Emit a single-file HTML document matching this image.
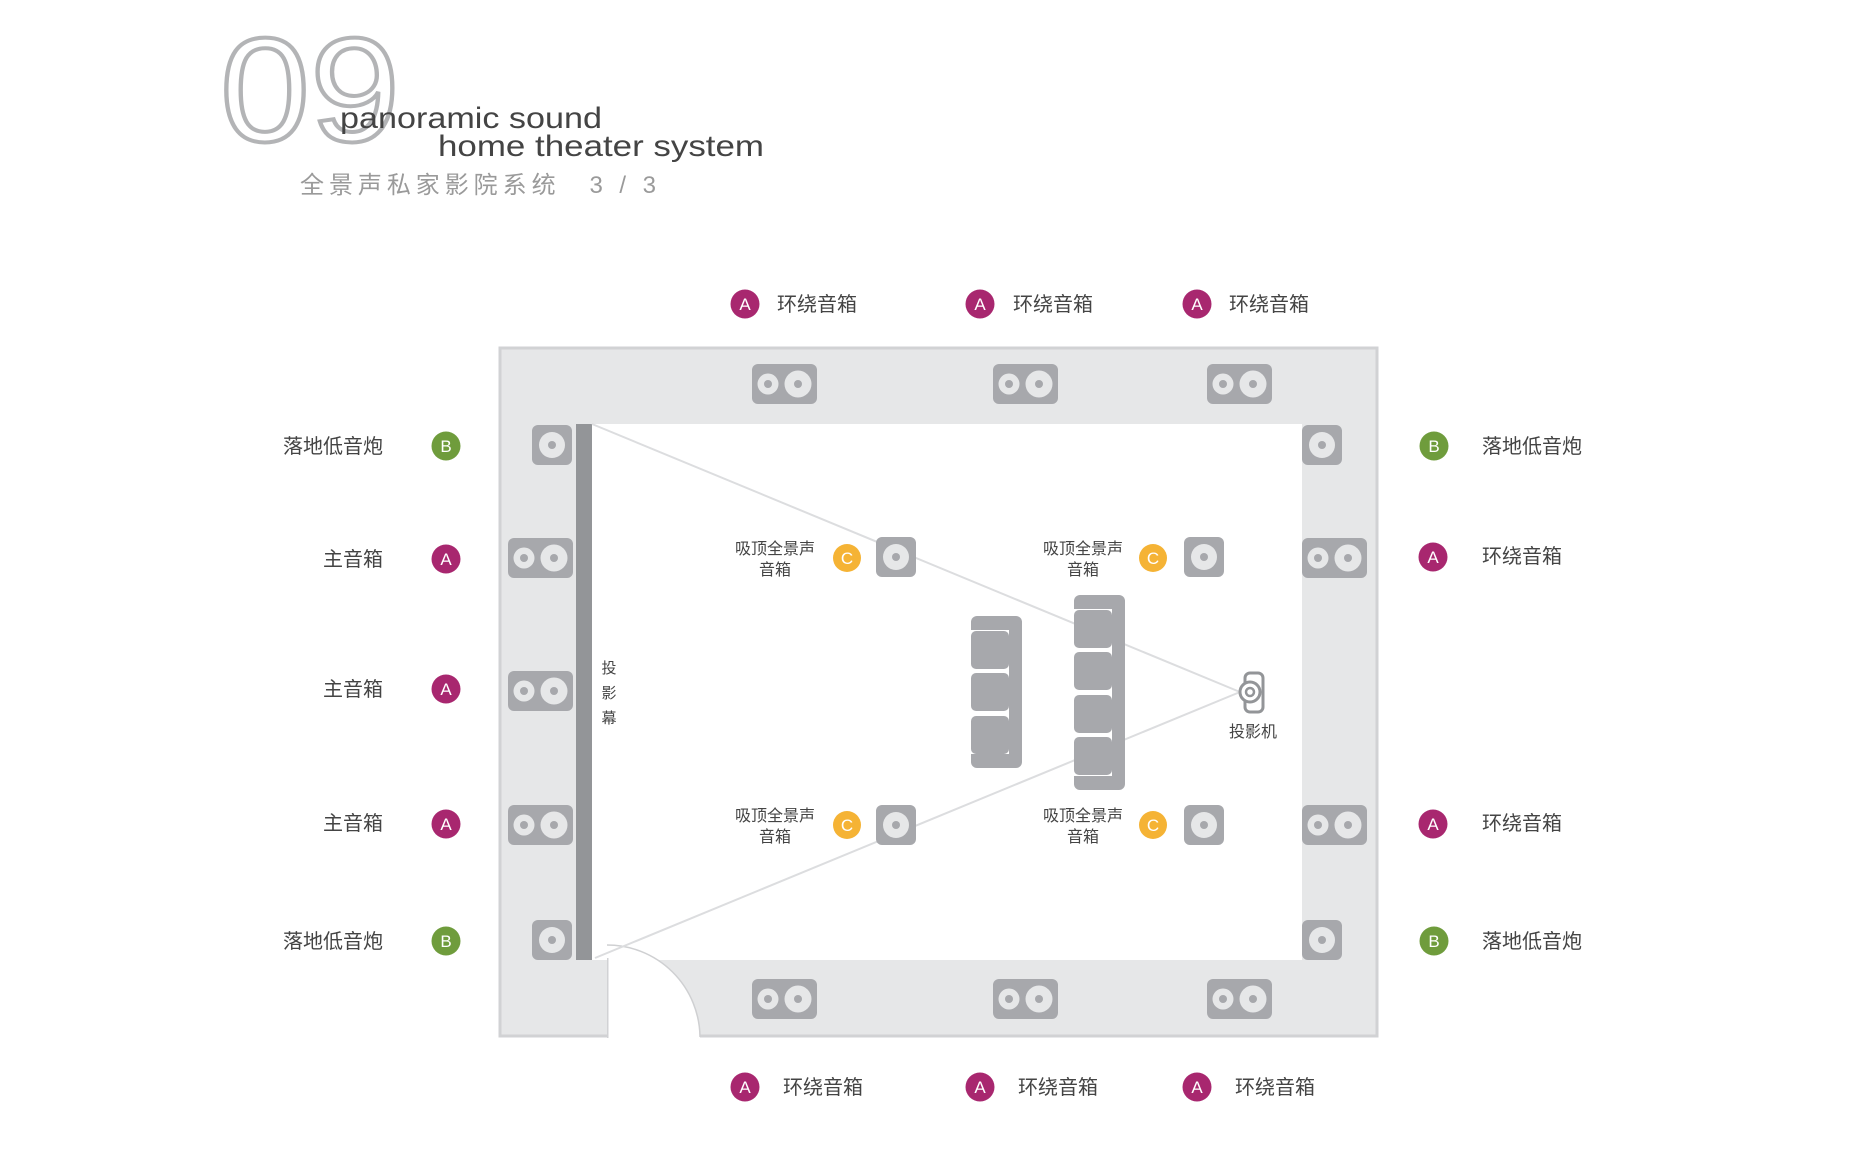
<!DOCTYPE html>
<html><head><meta charset="utf-8"><style>
html,body{margin:0;padding:0;background:#fff;}
svg{display:block;}
text{font-family:"Liberation Sans","Noto Sans CJK SC",sans-serif;}
</style></head><body>
<svg width="1861" height="1164" viewBox="0 0 1861 1164" xmlns="http://www.w3.org/2000/svg">
<defs>
<g id="dbl"><rect x="0" y="0" width="65" height="40" rx="6" fill="#a7a8ac"/><circle cx="16" cy="20" r="10.5" fill="#e6e7e8"/><circle cx="16" cy="20" r="4" fill="#a7a8ac"/><circle cx="46" cy="20" r="13.5" fill="#e6e7e8"/><circle cx="46" cy="20" r="4" fill="#a7a8ac"/></g>
<g id="sgl"><rect x="0" y="0" width="40" height="40" rx="6" fill="#a7a8ac"/><circle cx="20" cy="20" r="13" fill="#e6e7e8"/><circle cx="20" cy="20" r="4" fill="#a7a8ac"/></g>
</defs>

<!-- title -->
<text x="220" y="141" font-size="148" fill="none" stroke="#b3b4b6" stroke-width="4" textLength="180" lengthAdjust="spacingAndGlyphs">09</text>
<text x="340" y="128" font-size="30" fill="#444" textLength="262" lengthAdjust="spacingAndGlyphs">panoramic sound</text>
<text x="438" y="156" font-size="30" fill="#444" textLength="326" lengthAdjust="spacingAndGlyphs">home theater system</text>
<text x="300" y="193" font-size="24" fill="#9a9a9a" textLength="356" lengthAdjust="spacing">全景声私家影院系统　3 / 3</text>

<!-- room -->
<rect x="500" y="348" width="877" height="688" fill="#e6e7e8" stroke="#d1d2d4" stroke-width="3"/>
<rect x="576" y="424" width="726" height="536" fill="#fff"/>
<rect x="576" y="424" width="16" height="536" fill="#939598"/>
<!-- door -->
<path d="M607,1039 L607,945 A93,93 0 0 1 700,1039 Z" fill="#fff"/>
<path d="M607,945 A93,93 0 0 1 700,1037" fill="none" stroke="#cfd0d2" stroke-width="1.5"/>
<rect x="607" y="958" width="1.5" height="80" fill="#d1d2d4"/>

<!-- projection lines -->
<line x1="592" y1="424" x2="1240" y2="692" stroke="#dcdddf" stroke-width="2"/>
<line x1="595" y1="958" x2="1240" y2="692" stroke="#dcdddf" stroke-width="2"/>

<!-- wall speakers -->
<use href="#dbl" x="752" y="364"/><use href="#dbl" x="993" y="364"/><use href="#dbl" x="1207" y="364"/>
<use href="#dbl" x="752" y="979"/><use href="#dbl" x="993" y="979"/><use href="#dbl" x="1207" y="979"/>
<use href="#sgl" x="532" y="425"/><use href="#sgl" x="532" y="920"/>
<use href="#sgl" x="1302" y="425"/><use href="#sgl" x="1302" y="920"/>
<use href="#dbl" x="508" y="538"/><use href="#dbl" x="508" y="671"/><use href="#dbl" x="508" y="805"/>
<use href="#dbl" x="1302" y="538"/><use href="#dbl" x="1302" y="805"/>
<!-- ceiling -->
<use href="#sgl" x="876" y="537"/><use href="#sgl" x="1184" y="537"/>
<use href="#sgl" x="876" y="805"/><use href="#sgl" x="1184" y="805"/>

<!-- sofas -->
<rect x="1074" y="595" width="51" height="195" rx="6" fill="#a7a8ac"/>
<rect x="1074" y="609" width="38" height="167" fill="#fff"/>
<rect x="1074" y="610" width="38" height="38" rx="5" fill="#a7a8ac"/>
<rect x="1074" y="652" width="38" height="38" rx="5" fill="#a7a8ac"/>
<rect x="1074" y="695" width="38" height="38" rx="5" fill="#a7a8ac"/>
<rect x="1074" y="737" width="38" height="38" rx="5" fill="#a7a8ac"/>
<rect x="971" y="616" width="51" height="152" rx="6" fill="#a7a8ac"/>
<rect x="971" y="630" width="38" height="124" fill="#fff"/>
<rect x="971" y="631" width="38" height="38" rx="5" fill="#a7a8ac"/>
<rect x="971" y="673" width="38" height="38" rx="5" fill="#a7a8ac"/>
<rect x="971" y="716" width="38" height="38" rx="5" fill="#a7a8ac"/>

<!-- projector -->
<rect x="1245" y="673" width="18" height="39" rx="5" fill="none" stroke="#939598" stroke-width="3"/>
<circle cx="1250" cy="692" r="10" fill="#fff" stroke="#939598" stroke-width="3"/>
<circle cx="1250" cy="692" r="4" fill="none" stroke="#939598" stroke-width="2.5"/>
<text x="1253" y="737" font-size="16" fill="#444" text-anchor="middle">投影机</text>

<!-- screen label -->
<g font-size="15" fill="#444" text-anchor="middle">
<text x="609" y="673">投</text><text x="609" y="698">影</text><text x="609" y="723">幕</text>
</g>

<!-- ceiling labels -->
<g font-size="16" fill="#444" text-anchor="middle">
<text x="775" y="554">吸顶全景声</text><text x="775" y="575">音箱</text>
<text x="1083" y="554">吸顶全景声</text><text x="1083" y="575">音箱</text>
<text x="775" y="821">吸顶全景声</text><text x="775" y="842">音箱</text>
<text x="1083" y="821">吸顶全景声</text><text x="1083" y="842">音箱</text>
</g>
<g fill="#f5b335"><circle cx="847" cy="558" r="14"/><circle cx="1153" cy="558" r="14"/><circle cx="847" cy="825" r="14"/><circle cx="1153" cy="825" r="14"/></g>
<g font-size="17" fill="#fff" text-anchor="middle">
<text x="847" y="564">C</text><text x="1153" y="564">C</text><text x="847" y="831">C</text><text x="1153" y="831">C</text>
</g>

<!-- badges -->
<g fill="#a8276f">
<circle cx="745" cy="304" r="14.5"/><circle cx="980" cy="304" r="14.5"/><circle cx="1197" cy="304" r="14.5"/>
<circle cx="745" cy="1087" r="14.5"/><circle cx="980" cy="1087" r="14.5"/><circle cx="1197" cy="1087" r="14.5"/>
<circle cx="446" cy="559" r="14.5"/><circle cx="446" cy="689" r="14.5"/><circle cx="446" cy="824" r="14.5"/>
<circle cx="1433" cy="557" r="14.5"/><circle cx="1433" cy="824" r="14.5"/>
</g>
<g fill="#6f9c3c">
<circle cx="446" cy="446" r="14.5"/><circle cx="446" cy="941" r="14.5"/>
<circle cx="1434" cy="446" r="14.5"/><circle cx="1434" cy="941" r="14.5"/>
</g>
<g font-size="17" fill="#fff" text-anchor="middle">
<text x="745" y="310">A</text><text x="980" y="310">A</text><text x="1197" y="310">A</text>
<text x="745" y="1093">A</text><text x="980" y="1093">A</text><text x="1197" y="1093">A</text>
<text x="446" y="565">A</text><text x="446" y="695">A</text><text x="446" y="830">A</text>
<text x="1433" y="563">A</text><text x="1433" y="830">A</text>
<text x="446" y="452">B</text><text x="446" y="947">B</text><text x="1434" y="452">B</text><text x="1434" y="947">B</text>
</g>

<!-- labels -->
<g font-size="20" fill="#444">
<text x="777" y="311">环绕音箱</text><text x="1013" y="311">环绕音箱</text><text x="1229" y="311">环绕音箱</text>
<text x="783" y="1094">环绕音箱</text><text x="1018" y="1094">环绕音箱</text><text x="1235" y="1094">环绕音箱</text>
<text x="1482" y="453">落地低音炮</text><text x="1482" y="563">环绕音箱</text>
<text x="1482" y="830">环绕音箱</text><text x="1482" y="948">落地低音炮</text>
</g>
<g font-size="20" fill="#444" text-anchor="end">
<text x="383" y="453">落地低音炮</text><text x="383" y="566">主音箱</text>
<text x="383" y="696">主音箱</text><text x="383" y="830">主音箱</text>
<text x="383" y="948">落地低音炮</text>
</g>
</svg>
</body></html>
